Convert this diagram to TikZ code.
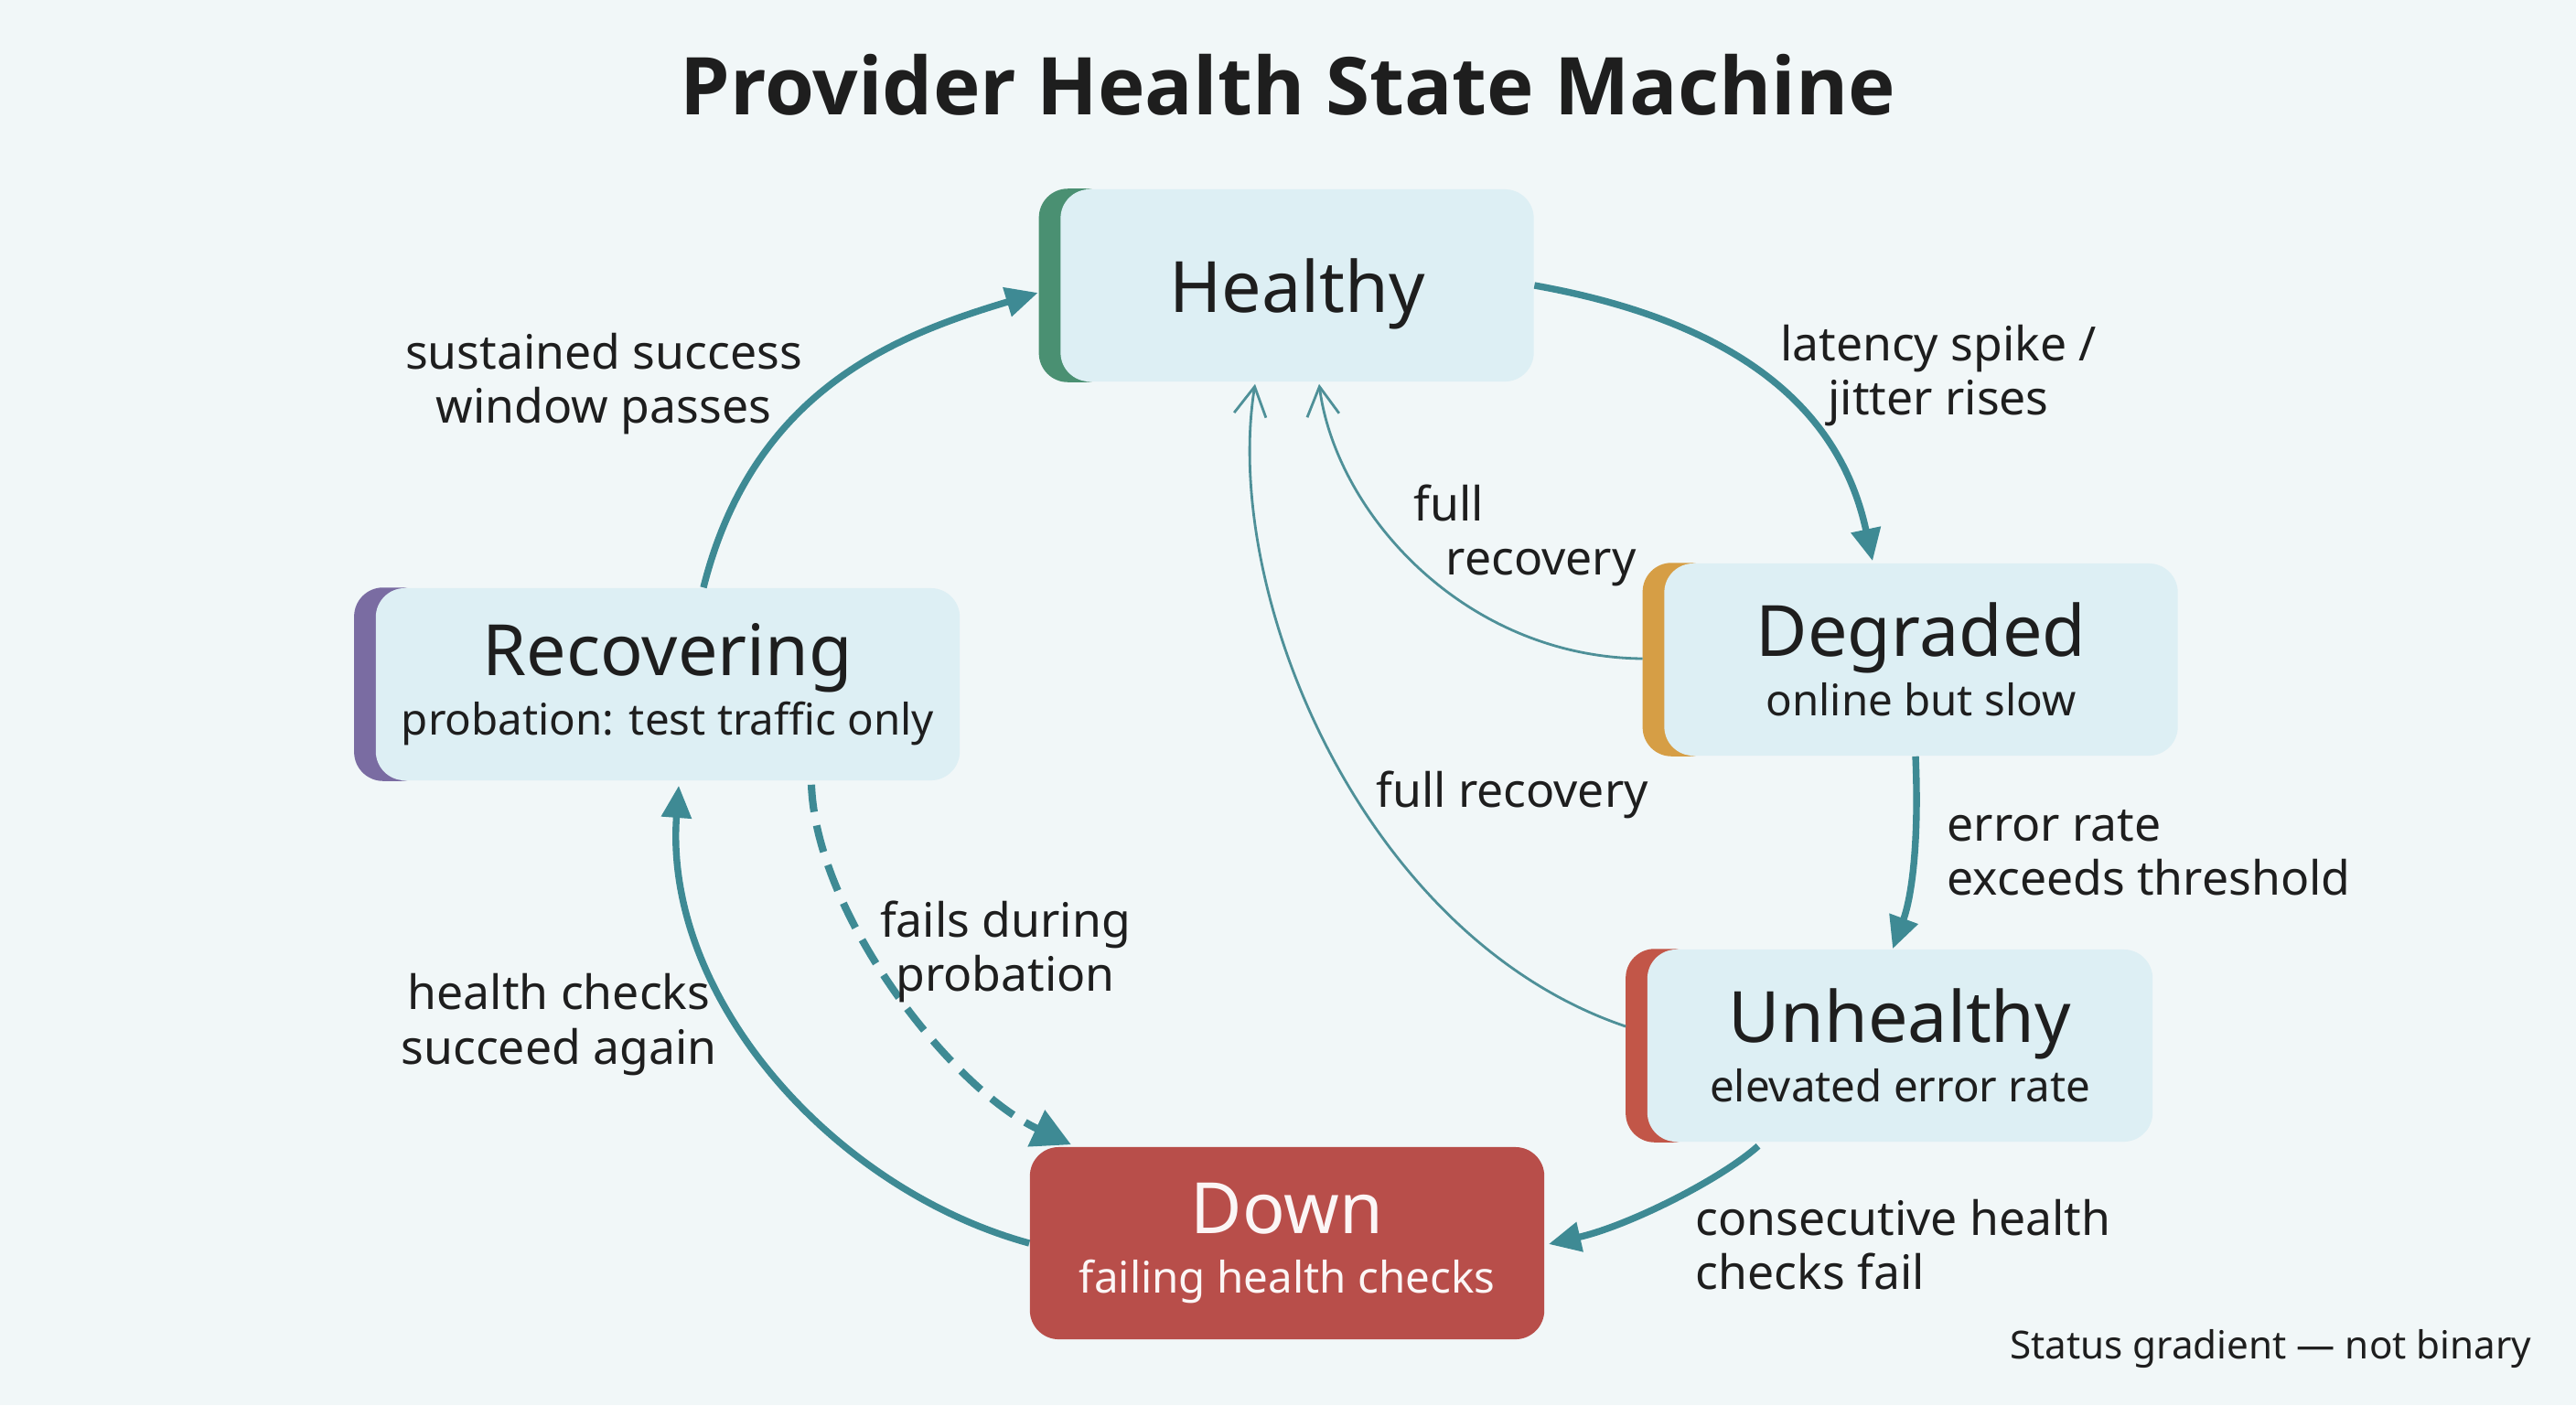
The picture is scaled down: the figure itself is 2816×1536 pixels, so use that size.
\documentclass[tikz,border=0pt]{standalone}
\usepackage{fontspec}
\setmainfont{Noto Sans}
\newfontfamily\titlefont{Open Sans}
\usetikzlibrary{arrows.meta,calc}
\definecolor{bgc}{HTML}{F1F7F8}
\definecolor{boxc}{HTML}{DDEFF4}
\definecolor{teal}{HTML}{3E8A94}
\definecolor{thin}{HTML}{4E9098}
\definecolor{txt}{HTML}{1E1E1E}
\definecolor{cgreen}{HTML}{4A9072}
\definecolor{corange}{HTML}{D69E45}
\definecolor{cpurple}{HTML}{7A6CA2}
\definecolor{cred}{HTML}{C25648}
\definecolor{downc}{HTML}{B84E4A}
\pgfdeclarelayer{back}
\pgfdeclarelayer{bg}
\pgfsetlayers{back,bg,main}
\newcommand{\ttl}{\fontsize{22}{24}\selectfont}
\newcommand{\sub}{\fontsize{13.5}{18.5}\selectfont}
\tikzset{
  state/.style={fill=boxc, rounded corners=9pt, minimum height=2.1cm, inner sep=0pt, align=center, text=txt},
  lab/.style={text=txt, font=\fontsize{14.7}{16.8}\selectfont, inner sep=0pt},
  thick arrow/.style={draw=teal, line width=2.1pt, -{Triangle[length=10pt,width=9pt]}},
  thin arrow/.style={draw=thin, line width=0.8pt, -{Straight Barb[length=9pt,width=10pt,line width=0.8pt]}},
  strip/.style={rounded corners=9pt}
}
\begin{document}
\begin{tikzpicture}[x=0.01cm, y=-0.01cm]
\begin{pgfonlayer}{back}
\fill[bgc] (0,0) rectangle (2816,1536);
\end{pgfonlayer}
\useasboundingbox (0,0) rectangle (2816,1536);

\node[text=txt, font=\titlefont\fontsize{24.8}{28}\selectfont\bfseries] (title) at (1408,93) {Provider Health State Machine};

\node[state, minimum width=5.17cm] (H) at (1418,312) {\ttl\raisebox{-2.6pt}[\height][\depth]{Healthy}};
\node[state, minimum width=5.61cm] (D) at (2100,721) {\ttl Degraded\\[2pt]\sub online but slow};
\node[state, minimum width=6.38cm] (R) at (730,748) {\ttl Recovering\\[2pt]\sub probation: test traffic only};
\node[state, minimum width=5.52cm] (U) at (2077,1143) {\ttl Unhealthy\\[2pt]\sub elevated error rate};
\node[state, minimum width=5.62cm, fill=downc, text=white!95!downc] (Dn) at (1407,1359) {\ttl Down\vphantom{g}\\[2pt]\sub failing health checks};

\begin{pgfonlayer}{bg}
\fill[cgreen, strip] ($(H.north west)+(-23,0)$) rectangle ($(H.south west)+(60,0)$);
\fill[corange, strip] ($(D.north west)+(-23,0)$) rectangle ($(D.south west)+(60,0)$);
\fill[cpurple, strip] ($(R.north west)+(-23,0)$) rectangle ($(R.south west)+(60,0)$);
\fill[cred, strip] ($(U.north west)+(-23,0)$) rectangle ($(U.south west)+(60,0)$);
\end{pgfonlayer}

% thick transitions
\draw[thick arrow] ($(R.north)+(39,0)$) .. controls (824,423) and (985,365) .. ($(H.west)+(-24,8)$);
\draw[thick arrow] (H.east) .. controls (1890,350) and (2010,440) .. ($(D.north)+(-53,-2)$);
\draw[thick arrow] ($(D.south)+(-6,0)$) .. controls (2098,920) and (2090,980) .. ($(U.north)+(-8,0)$);
\draw[thick arrow] ($(U.south)+(-155,4)$) .. controls (1880,1290) and (1780,1340) .. ($(Dn.east)+(4,1)$);
\draw[thick arrow] (Dn.west) .. controls (910,1300) and (725,1090) .. ($(R.south)+(12,5)$);
\draw[draw=teal, line width=2.3pt, dash pattern=on 8.5pt off 4.3pt, -{Triangle[length=12pt,width=12pt]}] ($(R.south)+(157,4)$) .. controls (892,1000) and (1040,1190) .. ($(Dn.north)+(-236,-2)$);

% thin recovery transitions
\draw[thin arrow] ($(D.west)+(-23,-1)$) .. controls (1600,718) and (1460,560) .. ($(H.south)+(24,2)$);
\draw[thin arrow] ($(U.west)+(-23,-21)$) .. controls (1490,1025) and (1335,650) .. ($(H.south)+(-46,2)$);

% labels
\node[lab, align=center] (l1) at (660,420) {sustained success\\window passes};
\node[lab, align=center] (l2) at (2119,411) {latency spike /\\jitter rises};
\node[lab, align=left, anchor=west] (l3) at (1545,585) {full\\\hspace*{10pt}recovery};
\node[lab] (l4) at (1653,869) {full recovery};
\node[lab, align=left, anchor=west] (l5) at (2128,932) {error rate\\exceeds threshold};
\node[lab, align=center] (l6) at (1099,1040) {fails during\\probation};
\node[lab, align=center] (l7) at (611,1120) {health checks\\succeed again};
\node[lab, align=left, anchor=west] (l8) at (1853,1361) {consecutive health\\checks fail};
\node[text=txt, font=\fontsize{12}{14}\selectfont, inner sep=0pt, anchor=east] (foot) at (2768,1474) {Status gradient — not binary};
\end{tikzpicture}
\end{document}
